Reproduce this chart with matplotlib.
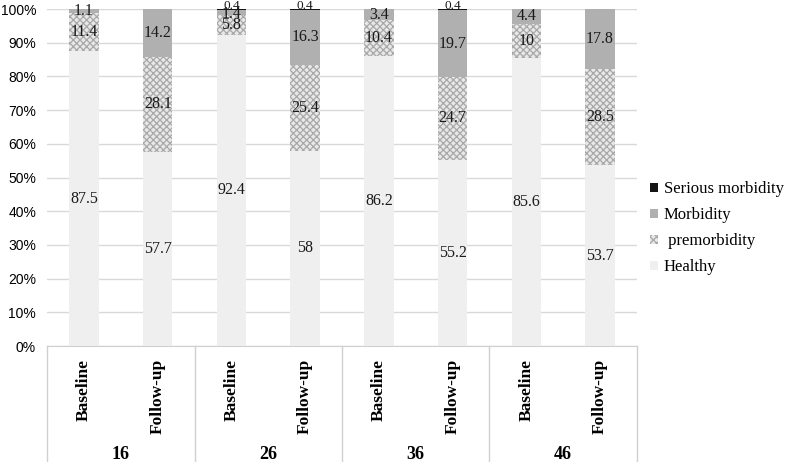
import matplotlib
matplotlib.use("Agg")
import matplotlib.pyplot as plt
import numpy as np
from matplotlib.patches import Patch

groups = ["16", "26", "36", "46"]
phases = ["Baseline", "Follow-up"]
healthy = [87.5, 57.7, 92.4, 58, 86.2, 55.2, 85.6, 53.7]
premorbidity = [11.4, 28.1, 5.8, 25.4, 10.4, 24.7, 10, 28.5]
morbidity = [1.1, 14.2, 1.4, 16.3, 3.4, 19.7, 4.4, 17.8]
serious = [0, 0, 0.4, 0.4, 0, 0.4, 0, 0]

series = [
    ("Healthy", healthy, dict(facecolor="#efefef", edgecolor="none")),
    (" premorbidity", premorbidity, dict(facecolor="#e8e8e8", edgecolor="#a8a8a8", hatch="xxxxx", linewidth=0)),
    ("Morbidity", morbidity, dict(facecolor="#b0b0b0", edgecolor="none")),
    ("Serious morbidity", serious, dict(facecolor="#151515", edgecolor="none")),
]

plt.rcParams["hatch.linewidth"] = 0.9
fig = plt.figure(figsize=(8, 4.62), dpi=100)
ax = fig.add_axes([0.059, 0.251, 0.737, 0.7295])

n = len(healthy)
x = np.arange(n)
bottom = np.zeros(n)
handles = []
for k, (name, vals, style) in enumerate(series):
    vals = np.array(vals, dtype=float)
    ax.bar(x, vals, width=0.4, bottom=bottom, zorder=2, **style)
    for xi, b, v in zip(x, bottom, vals):
        if v > 0:
            if k == 3:
                ax.text(xi, b + v + 0.9, f"{v:g}", ha="center", va="center",
                        fontsize=9.5, family="Liberation Serif", color="#1a1a1a",
                        zorder=3, clip_on=False)
            else:
                yy = b + v / 2
                if k == 2 and serious[xi] > 0 and v < 3:
                    yy = b + v / 2 - 0.5
                ax.text(xi, yy, f"{v:g}", ha="center", va="center",
                        fontsize=11.5, family="Liberation Serif", color="#1a1a1a", zorder=3)
    handles.append(Patch(label=name, **style))
    bottom += vals

ax.set_ylim(0, 100)
ax.set_xlim(-0.5, n - 0.5)
ax.set_yticks(np.arange(0, 101, 10))
ax.set_yticklabels([f"{v}%" for v in range(0, 101, 10)], family="Liberation Sans", fontsize=10)
ax.yaxis.grid(True, color="#d9d9d9", linewidth=1, zorder=0)
ax.set_axisbelow(True)
ax.tick_params(axis="y", length=0, pad=8)
ax.tick_params(axis="x", length=0, pad=9)
for s in ["top", "right", "left"]:
    ax.spines[s].set_visible(False)
ax.spines["bottom"].set_color("#d0d0d0")

ax.set_xticks(x)
ax.set_xticklabels([phases[i % 2] for i in range(n)], rotation=90,
                   family="Liberation Serif", fontweight="bold", fontsize=12.5)

trans = ax.get_xaxis_transform()
for gb in np.arange(-0.5, n, 2):
    ax.plot([gb, gb], [0, -0.35], transform=trans, color="#d0d0d0", linewidth=1, clip_on=False)
for i, g in enumerate(groups):
    ax.text(2 * i + 0.5, -0.323, g, transform=trans, ha="center", va="center",
            family="Liberation Serif", fontweight="bold", fontsize=13)

leg = fig.legend(handles=handles[::-1], loc="center left", bbox_to_anchor=(0.812, 0.506),
                 frameon=False, prop=dict(family="Liberation Serif", size=12),
                 handlelength=0.5, handleheight=0.5, handletextpad=0.35, labelspacing=0.6,
                 borderaxespad=0, borderpad=0)

fig.savefig("out.png", dpi=100)
